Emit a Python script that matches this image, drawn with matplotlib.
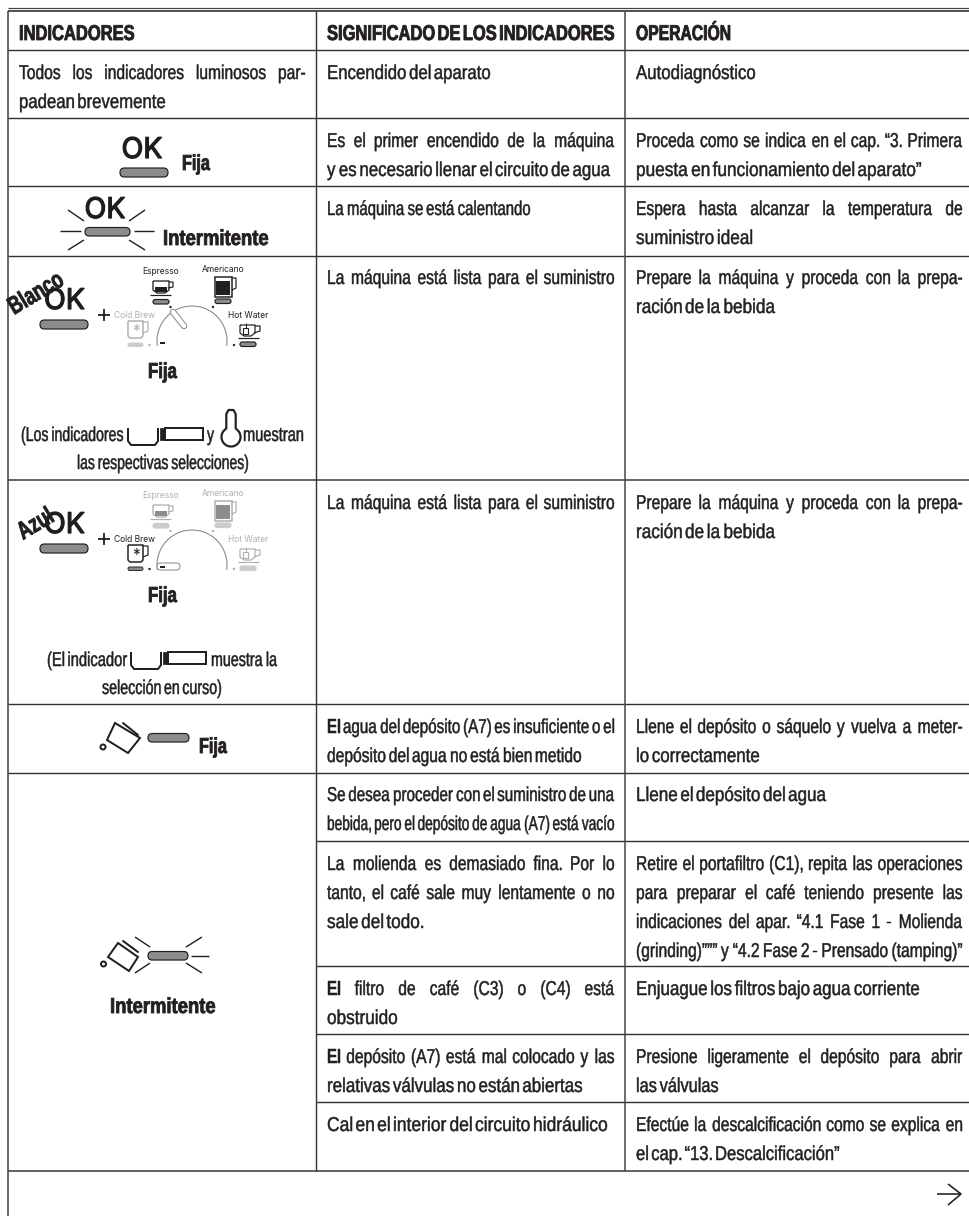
import matplotlib
matplotlib.use("Agg")
import matplotlib.pyplot as plt
from matplotlib.font_manager import FontProperties
from matplotlib.patches import FancyBboxPatch, Arc, Rectangle, Circle, Polygon
from matplotlib.patheffects import AbstractPathEffect
from matplotlib.text import Text
from matplotlib.textpath import TextPath
from matplotlib.transforms import Affine2D, Bbox

W, H = 969, 1216
BODY = ["Liberation Sans", "DejaVu Sans"]
ICON = ["Inter", "DejaVu Sans"]
INK = "#231f20"
GREY = "#b0b0b0"

headers = ["INDICADORES", "SIGNIFICADO DE LOS INDICADORES", "OPERACIÓN"]
header_x = [(19, 134), (327, 614), (636, 730)]

col1_intro = ["Todos los indicadores luminosos par-", "padean brevemente"]
col1_intro_end = [305, 165]

panel5_note = ["(Los indicadores", "y", "muestran", "las respectivas selecciones)"]
panel6_note = ["(El indicador", "muestra la", "selección en curso)"]

col2_lines = [
    ["Encendido del aparato"],
    ["Es el primer encendido de la máquina", "y es necesario llenar el circuito de agua"],
    ["La máquina se está calentando"],
    ["La máquina está lista para el suministro"],
    ["La máquina está lista para el suministro"],
    ["El agua del depósito (A7) es insuficiente o el", "depósito del agua no está bien metido"],
    ["Se desea proceder con el suministro de una", "bebida, pero el depósito de agua (A7) está vacío"],
    ["La molienda es demasiado fina. Por lo", "tanto, el café sale muy lentamente o no", "sale del todo."],
    ["El filtro de café (C3) o (C4) está", "obstruido"],
    ["El depósito (A7) está mal colocado y las", "relativas válvulas no están abiertas"],
    ["Cal en el interior del circuito hidráulico"],
]
col2_ends = [[490], [614, 610], [530], [614], [614], [614, 581], [614, 614],
             [614, 614, 423], [614, 397], [614, 582], [607]]

col3_lines = [
    ["Autodiagnóstico"],
    ["Proceda como se indica en el cap. “3. Primera", "puesta en funcionamiento del aparato”"],
    ["Espera hasta alcanzar la temperatura de", "suministro ideal"],
    ["Prepare la máquina y proceda con la prepa-", "ración de la bebida"],
    ["Prepare la máquina y proceda con la prepa-", "ración de la bebida"],
    ["Llene el depósito o sáquelo y vuelva a meter-", "lo correctamente"],
    ["Llene el depósito del agua"],
    ["Retire el portafiltro (C1), repita las operaciones", "para preparar el café teniendo presente las",
     "indicaciones del apar. “4.1 Fase 1 - Molienda", "(grinding)””” y “4.2 Fase 2 - Prensado (tamping)”"],
    ["Enjuague los filtros bajo agua corriente"],
    ["Presione ligeramente el depósito para abrir", "las válvulas"],
    ["Efectúe la descalcificación como se explica en", "el cap. “13. Descalcificación”"],
]
col3_ends = [[755], [962, 921], [962, 752], [962, 775], [962, 775], [962, 759], [826],
             [962, 962, 962, 962], [919], [962, 718], [962, 839]]

row_tops = [50, 118, 186, 255, 480, 704, 772, 841, 966, 1034, 1102]
right_only_rules = [841, 966, 1034, 1102]

fig = plt.figure(figsize=(W / 100, H / 100), dpi=100)
ax = fig.add_axes([0, 0, 1, 1])
ax.set_xlim(0, W)
ax.set_ylim(H, 0)
ax.axis("off")

PX = 0.72
JUSTIFIED_EDGES = (305, 614, 962)


class Squeeze(AbstractPathEffect):
    """Narrow a real text object about its anchor (condensed type is not installed)."""

    def __init__(self, x, y, sx, rot=0, stroke=0.35):
        super().__init__()
        self.px, self.py = ax.transData.transform((x, y))
        self.sx, self.rot, self.stroke = sx, rot, stroke

    def draw_path(self, renderer, gc, tpath, affine, rgbFace=None):
        t = (affine + Affine2D().translate(-self.px, -self.py).rotate_deg(-self.rot)
             .scale(self.sx, 1).rotate_deg(self.rot).translate(self.px, self.py))
        g = renderer.new_gc()
        g.copy_properties(gc)
        g.set_linewidth(self.stroke)
        if rgbFace is not None:
            g.set_foreground(rgbFace)
        renderer.draw_path(g, tpath, t, rgbFace)
        g.restore()


class SqueezedText(Text):
    """A text whose reported extent follows the narrowing done by Squeeze."""

    def __init__(self, x, y, s, sx=1.0, rot=0, stroke=0.35, **kw):
        super().__init__(x, y, s, rotation=rot, rotation_mode="anchor", ha="left", va="baseline",
                         path_effects=[Squeeze(x, y, sx, rot=rot, stroke=stroke)], **kw)
        self._sx = sx
        self._rot = rot

    def get_window_extent(self, renderer=None, dpi=None):
        bb = super().get_window_extent(renderer, dpi)
        if self._rot:
            return Bbox.from_bounds(bb.x0, bb.y0, bb.width * self._sx, bb.height * self._sx)
        return Bbox.from_bounds(bb.x0, bb.y0, bb.width * self._sx, bb.height)


def seg(pts, color=INK, lw=1.5, cap="butt", z=3):
    xs, ys = zip(*pts)
    ax.plot(xs, ys, color=color, lw=lw * PX, solid_capstyle=cap, solid_joinstyle="round", zorder=z)


def text_w(s, fp, size):
    return TextPath((0, 0), s, size=size, prop=fp).get_extents().x1 * 100 / 72


def word(s, x, base, size, sx, bold=False):
    ax.add_artist(SqueezedText(x, base, s, sx=sx, stroke=0.6 if bold else 0.35, family=BODY,
                               fontsize=size, color=INK, weight="bold" if bold else "normal", zorder=4))


def fit_line(s, x0, x1, base, size=14.4, bold=False, gap0=3.4, sx0=0.78):
    fp = FontProperties(family=BODY, weight="bold" if bold else "normal")
    words = s.split(" ")
    ws = [text_w(w, fp, size) for w in words]
    total, n = sum(ws), len(words)
    if n == 1:
        sx, gap = (x1 - x0) / total, 0
    elif x1 in JUSTIFIED_EDGES and not bold:
        sx = min(sx0, (x1 - x0 - gap0 * (n - 1)) / total)
        gap = (x1 - x0 - sx * total) / (n - 1)
    else:
        sx, gap = (x1 - x0 - gap0 * (n - 1)) / total, gap0
    x = x0
    for w, wd in zip(words, ws):
        word(w, x, base, size, sx, bold)
        x += wd * sx + gap


def bold_label(s, x0, x1, base, size=15.6):
    fit_line(s, x0, x1, base, size=size, bold=True)


def bar(x0, y0, x1, y1, fc="#8c8c8c", ec=INK, lw=1.2):
    r = (y1 - y0) / 2
    ax.add_patch(FancyBboxPatch((x0 + r, y0 + r), x1 - x0 - 2 * r, 0.01,
                                boxstyle=f"round,pad={r}", fc=fc, ec=ec, lw=lw * PX, zorder=3))


def ok(cx, base, size=20.5):
    ax.text(cx, base, "OK", family=ICON, fontsize=size, color="#1c1c1c", ha="center", va="baseline",
            zorder=4, path_effects=[Squeeze(cx, base, 1.0, stroke=0.9)])


def jug(corners, handle, drop):
    ax.add_patch(Polygon(corners, closed=True, fc="white", ec=INK, lw=2 * PX, zorder=3))
    seg(handle, lw=2, cap="round")
    ax.add_patch(Circle(drop, 2.5, fc="white", ec=INK, lw=2 * PX, zorder=3))


def portafilter(x, y):
    seg([(x, y), (x, y + 13), (x + 3, y + 17), (x + 27, y + 17), (x + 30, y + 13), (x + 30, y)], lw=2)
    ax.add_patch(Rectangle((x + 32, y), 5, 12, fc=INK, ec=INK, lw=0.5, zorder=3))
    ax.add_patch(Rectangle((x + 37, y), 38, 12, fc="white", ec=INK, lw=2 * PX, zorder=3))


def thermometer(cx, ty, by):
    seg([(cx - 4.7, by - 8), (cx - 4.7, ty + 4), (cx - 2.5, ty), (cx + 2.5, ty), (cx + 4.7, ty + 4), (cx + 4.7, by - 8)], lw=2.2)
    ax.add_patch(Arc((cx, by), 19, 19, theta1=-60, theta2=240, ec=INK, lw=2.2 * PX, zorder=3))


def small(s, cx, y, color):
    ax.text(cx, y, s, family=ICON, fontsize=6.1, color=color, ha="center", va="center", zorder=4)


def dot(x, y, color):
    ax.add_patch(Circle((x, y), 1.2, fc=color, ec="none", zorder=3))


def panel(dy, on):
    """on holds the names of lit drinks; dy shifts the panel down the page."""
    c = lambda k: INK if k in on else GREY
    f = lambda k: "#8c8c8c" if k in on else "#cccccc"
    e = lambda k: INK if k in on else "#cccccc"

    k = "Espresso"
    small(k, 161, 271 + dy, c(k))
    seg([(153, 281 + dy), (169, 281 + dy), (169, 290 + dy), (165, 293 + dy), (157, 293 + dy), (153, 290 + dy), (153, 281 + dy)], c(k), 1.3)
    ax.add_patch(Rectangle((155, 287 + dy), 12, 5, fc=INK if k in on else "#8c8c8c", ec="none", zorder=3))
    seg([(169, 282 + dy), (173, 282 + dy), (173, 287 + dy), (168, 288 + dy)], c(k), 1.2)
    seg([(150, 295 + dy), (171, 295 + dy)], c(k), 1.2)
    bar(153, 299.5 + dy, 169, 304 + dy, f(k), e(k))
    dot(170.5, 307 + dy, c(k))

    k = "Americano"
    small(k, 223, 269 + dy, c(k))
    ax.add_patch(Rectangle((215, 277 + dy), 17, 20, fc="white", ec=c(k), lw=1.5 * PX, zorder=3))
    ax.add_patch(Rectangle((216.5, 281 + dy), 14, 14, fc=INK if k in on else "#8c8c8c", ec="none", zorder=3))
    seg([(232, 278 + dy), (236, 278 + dy), (236, 288 + dy), (232, 290 + dy)], c(k), 1.2)
    bar(215, 299 + dy, 231, 303.5 + dy, f(k), e(k))
    dot(213, 307 + dy, c(k))

    k = "Hot Water"
    small(k, 248, 316 + dy, c(k))
    seg([(240, 325 + dy), (255, 325 + dy), (255, 333 + dy), (251, 336 + dy), (244, 336 + dy), (240, 333 + dy), (240, 325 + dy)], c(k), 1.2)
    seg([(255, 326 + dy), (260, 326 + dy), (260, 331 + dy), (254, 333 + dy)], c(k), 1.2)
    ax.add_patch(Rectangle((243.5, 328 + dy), 5, 5.5, fc="white", ec=c(k), lw=1.1 * PX, zorder=3))
    seg([(246, 323 + dy), (246, 328 + dy)], c(k), 1)
    seg([(238, 338 + dy), (259, 338 + dy)], c(k), 1.2)
    bar(240, 342 + dy, 256, 346.5 + dy, f(k), e(k))
    dot(234, 345 + dy, c(k))

    k = "Cold Brew"
    small(k, 135, 315 + dy, c(k))
    seg([(128, 321 + dy), (143, 321 + dy), (143, 336 + dy), (141, 338 + dy), (130, 338 + dy), (128, 336 + dy), (128, 321 + dy)], c(k), 1.5)
    seg([(143, 322 + dy), (148, 322 + dy), (148, 331 + dy), (143, 333 + dy)], c(k), 1.2)
    ax.text(135.5, 331.5 + dy, "*", family=ICON, fontsize=11, color=c(k), ha="center", va="center", zorder=4)
    bar(128, 343 + dy, 143, 346.5 + dy, f(k), e(k), lw=0.9)
    dot(149.5, 345 + dy, c(k))

    ax.add_patch(Arc((192, 341 + dy), 70, 70, theta1=172, theta2=368, ec="#8a8a8a", lw=1.1 * PX, zorder=2))
    if "Cold Brew" in on:
        bar(157, 339 + dy, 180, 346 + dy, "white", "#8a8a8a", 1.0)
    else:
        seg([(173, 312 + dy), (184, 326 + dy)], "#8a8a8a", 6.5, "round")
        seg([(173, 312 + dy), (184, 326 + dy)], "white", 4.5, "round", z=3.1)
    seg([(160, 342.5 + dy), (165, 342.5 + dy)], INK, 2, z=3.5)

    seg([(98, 315 + dy), (110, 315 + dy)], INK, 1.8)
    seg([(104, 309 + dy), (104, 321 + dy)], INK, 1.8)

    ok(64.5, 309 + dy)
    bar(40, 320 + dy, 88, 329 + dy)


def rotated(s, x, y, size=18, sx=0.72, rot=31):
    ax.add_artist(SqueezedText(x, y, s, sx=sx, rot=rot, stroke=0.6, family=BODY, weight="bold",
                               fontsize=size, color=INK, zorder=5))


# ---- rules ----
seg([(8, 7.5), (W, 7.5)], "#444444", 1.2)
seg([(8, 11), (W, 11)], "#555555", 2.0)
for y in [50, 118, 186, 255.5, 704, 772.5]:
    seg([(8, y), (W, y)], "#333333", 1.4)
seg([(8, 480), (W, 480)], "#555555", 1.8)
for y in right_only_rules:
    seg([(316, y), (W, y)], "#333333", 1.4)
seg([(8, 1171), (W, 1171)], "#666666", 2.0)
seg([(8, 11), (8, H)], "#444444", 1.6)
seg([(316, 11), (316, 1171)], "#333333", 1.4)
seg([(625, 11), (625, 1171)], "#444444", 1.5)

# ---- header ----
for h, (a, b) in zip(headers, header_x):
    fit_line(h, a, b, 40, size=15.4, bold=True, gap0=3.0)

# ---- right columns ----
for top, lines, ends in zip(row_tops, col2_lines, col2_ends):
    for i, (s, e) in enumerate(zip(lines, ends)):
        fit_line(s, 327, e, top + 29 + 29 * i)
for top, lines, ends in zip(row_tops, col3_lines, col3_ends):
    for i, (s, e) in enumerate(zip(lines, ends)):
        fit_line(s, 636, e, top + 29 + 29 * i)

# ---- left column ----
for i, (s, e) in enumerate(zip(col1_intro, col1_intro_end)):
    fit_line(s, 19, e, 79 + 29 * i)

ok(142, 158)
bar(120, 168, 168, 177)
bold_label("Fija", 182, 210, 170)

ok(105, 218)
bar(85, 227.5, 130, 236)
for p in [[(68, 210), (84, 221)], [(129, 221), (145, 210)], [(60, 231), (81, 231)],
          [(134, 231), (154, 231)], [(68, 250), (84, 240)], [(129, 240), (145, 250)]]:
    seg(p, INK, 1.4)
bold_label("Intermitente", 163, 268, 245)

panel(0, {"Espresso", "Americano", "Hot Water"})
rotated("Blanco", 14, 315)
bold_label("Fija", 148, 177, 378)
fit_line(panel5_note[0], 21, 123, 441)
portafilter(128, 428)
fit_line(panel5_note[1], 207, 214, 441)
thermometer(231, 410, 437)
fit_line(panel5_note[2], 243, 303, 441)
fit_line(panel5_note[3], 77, 248, 469)

panel(224, {"Cold Brew"})
rotated("Azul", 23, 540)
bold_label("Fija", 148, 177, 602)
fit_line(panel6_note[0], 47, 127, 666)
portafilter(131, 652)
fit_line(panel6_note[1], 211, 277, 666)
fit_line(panel6_note[2], 102, 221, 694)

jug([(115, 723), (140, 738), (128, 753), (107, 740)], [(123, 723), (138, 735)], (103, 747))
bar(148, 733.5, 189, 742)
bold_label("Fija", 199, 227, 753)

jug([(118, 943), (138, 957), (129, 971), (108, 957)], [(123, 941), (138, 952)], (103.5, 964))
bar(148, 951.5, 188, 960)
for p in [[(135, 937), (150, 947)], [(135, 973), (150, 963)], [(186, 947), (202, 937)],
          [(191, 956), (209, 956)], [(186, 963), (202, 973)]]:
    seg(p, INK, 1.4)
bold_label("Intermitente", 110, 215, 1013)

seg([(937, 1194), (961, 1194)], INK, 1.6)
seg([(948, 1184), (961, 1194), (948, 1205)], INK, 1.6)

fig.savefig("out.png", dpi=100)
